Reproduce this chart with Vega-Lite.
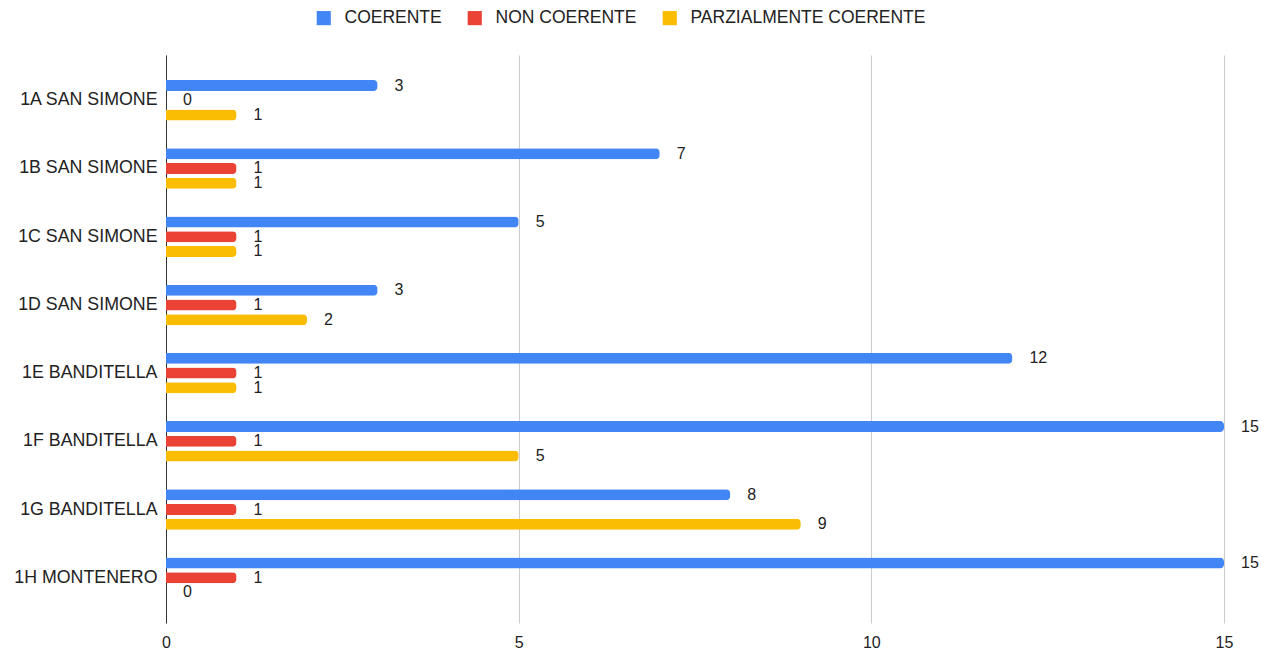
{
  "$schema": "https://vega.github.io/schema/vega-lite/v6.json",
  "width": 1058,
  "height": 568,
  "autosize": {"type": "none"},
  "padding": {"left": 166, "top": 55, "right": 43, "bottom": 30},
  "background": "white",
  "config": {"font": "Liberation Sans", "view": {"stroke": null}},
  "data": {
    "values": [
      {"classe": "1A SAN SIMONE", "giudizio": "COERENTE", "n": 3},
      {"classe": "1A SAN SIMONE", "giudizio": "NON COERENTE", "n": 0},
      {"classe": "1A SAN SIMONE", "giudizio": "PARZIALMENTE COERENTE", "n": 1},
      {"classe": "1B SAN SIMONE", "giudizio": "COERENTE", "n": 7},
      {"classe": "1B SAN SIMONE", "giudizio": "NON COERENTE", "n": 1},
      {"classe": "1B SAN SIMONE", "giudizio": "PARZIALMENTE COERENTE", "n": 1},
      {"classe": "1C SAN SIMONE", "giudizio": "COERENTE", "n": 5},
      {"classe": "1C SAN SIMONE", "giudizio": "NON COERENTE", "n": 1},
      {"classe": "1C SAN SIMONE", "giudizio": "PARZIALMENTE COERENTE", "n": 1},
      {"classe": "1D SAN SIMONE", "giudizio": "COERENTE", "n": 3},
      {"classe": "1D SAN SIMONE", "giudizio": "NON COERENTE", "n": 1},
      {"classe": "1D SAN SIMONE", "giudizio": "PARZIALMENTE COERENTE", "n": 2},
      {"classe": "1E BANDITELLA", "giudizio": "COERENTE", "n": 12},
      {"classe": "1E BANDITELLA", "giudizio": "NON COERENTE", "n": 1},
      {"classe": "1E BANDITELLA", "giudizio": "PARZIALMENTE COERENTE", "n": 1},
      {"classe": "1F BANDITELLA", "giudizio": "COERENTE", "n": 15},
      {"classe": "1F BANDITELLA", "giudizio": "NON COERENTE", "n": 1},
      {"classe": "1F BANDITELLA", "giudizio": "PARZIALMENTE COERENTE", "n": 5},
      {"classe": "1G BANDITELLA", "giudizio": "COERENTE", "n": 8},
      {"classe": "1G BANDITELLA", "giudizio": "NON COERENTE", "n": 1},
      {"classe": "1G BANDITELLA", "giudizio": "PARZIALMENTE COERENTE", "n": 9},
      {"classe": "1H MONTENERO", "giudizio": "COERENTE", "n": 15},
      {"classe": "1H MONTENERO", "giudizio": "NON COERENTE", "n": 1},
      {"classe": "1H MONTENERO", "giudizio": "PARZIALMENTE COERENTE", "n": 0}
    ]
  },
  "encoding": {
    "y": {
      "field": "classe",
      "type": "nominal",
      "sort": ["1A SAN SIMONE", "1B SAN SIMONE", "1C SAN SIMONE", "1D SAN SIMONE", "1E BANDITELLA", "1F BANDITELLA", "1G BANDITELLA", "1H MONTENERO"],
      "scale": {"paddingInner": 0.406, "paddingOuter": 0.367},
      "axis": {
        "title": null,
        "domain": true,
        "domainColor": "#333333",
        "domainWidth": 1,
        "ticks": false,
        "grid": false,
        "labelPadding": 9,
        "labelFontSize": 17.8,
        "labelLimit": 0,
        "labelColor": "#222222"
      }
    },
    "yOffset": {
      "field": "giudizio",
      "type": "nominal",
      "sort": ["COERENTE", "NON COERENTE", "PARZIALMENTE COERENTE"],
      "scale": {"paddingInner": 0.254, "paddingOuter": 0}
    },
    "x": {
      "field": "n",
      "type": "quantitative",
      "scale": {"domain": [0, 15], "nice": false},
      "axis": {
        "title": null,
        "values": [0, 5, 10, 15],
        "grid": true,
        "gridColor": "#cccccc",
        "domain": false,
        "ticks": false,
        "labelFlush": false,
        "labelPadding": 11,
        "labelFontSize": 16,
        "labelColor": "#222222"
      }
    }
  },
  "layer": [
    {
      "mark": {"type": "bar", "cornerRadiusEnd": 4},
      "encoding": {
        "color": {
          "field": "giudizio",
          "type": "nominal",
          "scale": {
            "domain": ["COERENTE", "NON COERENTE", "PARZIALMENTE COERENTE"],
            "range": ["#4285F4", "#EA4335", "#FBBC04"]
          },
          "legend": {
            "title": null,
            "orient": "none",
            "direction": "horizontal",
            "legendX": 149,
            "legendY": -46,
            "symbolType": "square",
            "symbolSize": 200,
            "symbolStrokeWidth": 0,
            "labelFontSize": 17.5,
            "labelLimit": 0,
            "labelOffset": 12,
            "labelColor": "#222222",
            "columnPadding": 24
          }
        }
      }
    },
    {
      "mark": {"type": "text", "align": "left", "dx": 17, "fontSize": 16, "color": "#222222"},
      "encoding": {"text": {"field": "n", "type": "quantitative"}}
    }
  ]
}
